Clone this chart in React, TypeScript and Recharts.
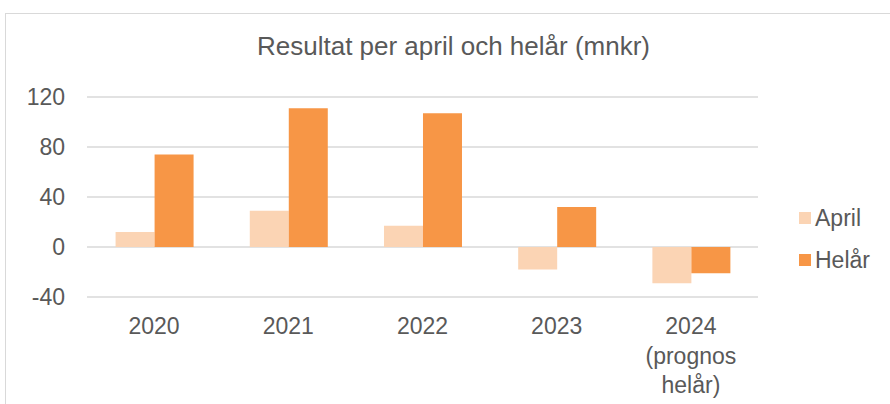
import { BarChart, Bar, XAxis, YAxis, CartesianGrid } from "recharts";

const categories = ["2020", "2021", "2022", "2023", "2024\n(prognos\nhelår)"];
const aprilValues = [12, 29, 17, -18, -29];
const helarValues = [74, 111, 107, 32, -21];
const yTicks = [-40, 0, 40, 80, 120];

const APRIL = "#FBD4B4";
const HELAR = "#F79646";
const TEXT = "#595959";
const FONT = '"Liberation Sans", Arial, sans-serif';

const data = categories.map((c, i) => ({
  name: c,
  April: aprilValues[i],
  Helår: helarValues[i],
}));

function XTick({ x, y, payload }: any) {
  const lines = String(payload.value).split("\n");
  return (
    <text x={x} y={y} textAnchor="middle" fill={TEXT} fontSize={23} fontFamily={FONT}>
      {lines.map((l, i) => (
        <tspan key={i} x={x} dy={i === 0 ? 35 : 29.5}>
          {l}
        </tspan>
      ))}
    </text>
  );
}

function YTick({ y, payload }: any) {
  return (
    <text x={65} y={y} dy={8} textAnchor="end" fill={TEXT} fontSize={23} fontFamily={FONT}>
      {payload.value}
    </text>
  );
}

const legendItems = [
  { label: "April", color: APRIL },
  { label: "Helår", color: HELAR },
];

export default function App() {
  return (
    <div style={{ position: "absolute", left: 0, top: 0, width: 890, height: 404, background: "#fff", overflow: "hidden" }}>
      <div
        style={{
          position: "absolute",
          left: 5,
          top: 13,
          width: 900,
          height: 420,
          border: "1.5px solid #d9d9d9",
          boxSizing: "border-box",
        }}
      />
      <div
        style={{
          position: "absolute",
          left: 0,
          top: 31,
          width: 907,
          textAlign: "center",
          fontFamily: FONT,
          fontSize: 26,
          color: TEXT,
        }}
      >
        Resultat per april och helår (mnkr)
      </div>
      <BarChart
        width={890}
        height={404}
        data={data}
        margin={{ top: 97, right: 132, bottom: 77, left: 27 }}
        barCategoryGap="21.3%"
        barGap={0}
        style={{ position: "absolute", left: 0, top: 0 }}
      >
        <CartesianGrid vertical={false} stroke="#d9d9d9" strokeWidth={1.5} />
        <XAxis dataKey="name" height={30} axisLine={false} tickLine={false} tickSize={0} interval={0} tick={<XTick />} />
        <YAxis
          width={60}
          domain={[-40, 120]}
          ticks={yTicks}
          axisLine={false}
          tickLine={false}
          tickSize={0}
          tick={<YTick />}
        />
        <Bar dataKey="April" fill={APRIL} isAnimationActive={false} />
        <Bar dataKey="Helår" fill={HELAR} isAnimationActive={false} />
      </BarChart>
      <div style={{ position: "absolute", left: 799, top: 197, fontFamily: FONT, fontSize: 23, color: TEXT }}>
        {legendItems.map((it) => (
          <div key={it.label} style={{ display: "flex", alignItems: "center", height: 42 }}>
            <span style={{ display: "inline-block", width: 12, height: 12, background: it.color, marginRight: 4 }} />
            {it.label}
          </div>
        ))}
      </div>
    </div>
  );
}
